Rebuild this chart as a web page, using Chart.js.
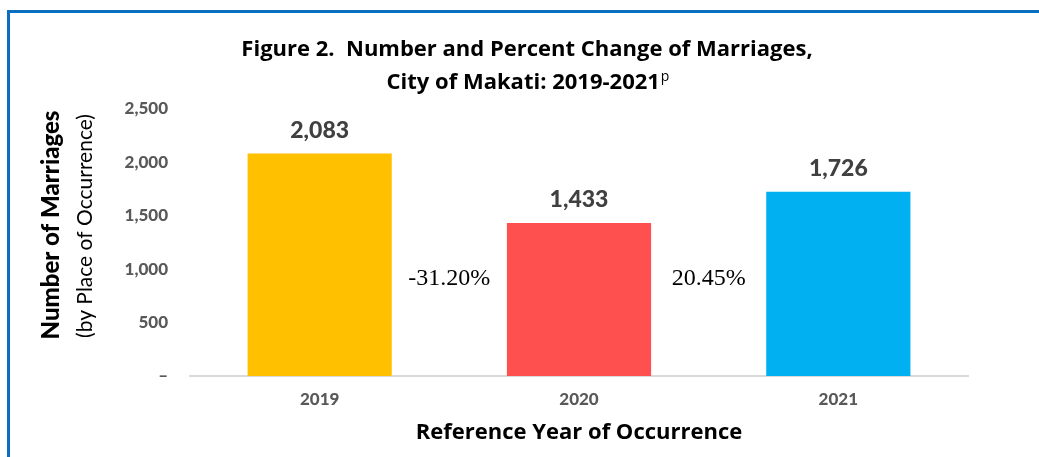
<!DOCTYPE html>
<html>
<head>
<meta charset="utf-8">
<script src="https://cdn.jsdelivr.net/npm/chart.js@4"></script>
<style>
  html, body { margin: 0; padding: 0; background: #fff; }
  #wrap { position: relative; width: 1039px; height: 457px; overflow: hidden; }
  #frame { position: absolute; left: 7px; top: 10px; width: 1100px; height: 500px;
           border-left: 3px solid #0A6EC1; border-top: 3px solid #0A6EC1; }
  canvas { position: absolute; left: 0; top: 0; }
</style>
</head>
<body>
<div id="wrap">
  <div id="frame"></div>
  <canvas id="chart" width="1039" height="457"></canvas>
</div>
<script>
const years = ['2019', '2020', '2021'];
const marriages = [2083, 1433, 1726];
const pctChange = ['-31.20%', '20.45%'];
const barColors = ['#FFC000', '#FF5050', '#00B0F0'];

const titleFont = '"Liberation Sans Narrow", "Open Sans", sans-serif';
const tickFont = 'Lato, "Noto Sans", sans-serif';

// title, axis titles and the labels on / between the bars
const extras = {
    id: 'extras',
    afterDraw(chart) {
        const ctx = chart.ctx;
        const xs = chart.scales.x;
        ctx.save();
        ctx.fillStyle = '#000';
        ctx.textAlign = 'center';
        ctx.textBaseline = 'middle';

        // title
        ctx.font = 'bold 22px ' + titleFont;
        ctx.fillText('Figure 2.  Number and Percent Change of Marriages,', 527, 50);
        const line2 = 'City of Makati: 2019-2021';
        const w2 = ctx.measureText(line2).width;
        ctx.font = '14px ' + titleFont;
        const wp = ctx.measureText('p').width;
        const start = 528 - (w2 + wp + 1) / 2;
        ctx.textAlign = 'left';
        ctx.font = 'bold 22px ' + titleFont;
        ctx.fillText(line2, start, 83);
        ctx.font = '14px ' + titleFont;
        ctx.fillText('p', start + w2 + 1, 77);

        // y axis title, two lines
        ctx.textAlign = 'center';
        ctx.save();
        ctx.translate(51, 225);
        ctx.rotate(-Math.PI / 2);
        ctx.font = '900 24px ' + tickFont;
        ctx.fillText('Number of Marriages', 0, 0);
        ctx.restore();
        ctx.save();
        ctx.translate(85, 226);
        ctx.rotate(-Math.PI / 2);
        ctx.font = '21px ' + tickFont;
        ctx.fillText('(by Place of Occurrence)', 0, 0);
        ctx.restore();

        // x axis title
        ctx.font = 'bold 22px ' + titleFont;
        ctx.fillText('Reference Year of Occurrence', (chart.chartArea.left + chart.chartArea.right) / 2, 433);

        // values above bars
        ctx.fillStyle = '#404040';
        ctx.font = '900 23px ' + tickFont;
        ctx.textBaseline = 'alphabetic';
        chart.getDatasetMeta(0).data.forEach((bar, i) => {
            ctx.fillText(marriages[i].toLocaleString('en-US'), bar.x, bar.y - 16);
        });

        // percent change between bars
        ctx.fillStyle = '#000';
        ctx.textBaseline = 'middle';
        ctx.font = '24px "Liberation Serif", "DejaVu Serif", serif';
        pctChange.forEach((t, i) => {
            const x = (xs.getPixelForValue(i) + xs.getPixelForValue(i + 1)) / 2;
            ctx.fillText(t, x, 279);
        });
        ctx.restore();
    }
};

new Chart(document.getElementById('chart'), {
    type: 'bar',
    data: {
        labels: years,
        datasets: [{
            data: marriages,
            backgroundColor: barColors,
            barPercentage: 0.556,
            categoryPercentage: 1
        }]
    },
    options: {
        responsive: false,
        animation: false,
        devicePixelRatio: 1,
        layout: { padding: { top: 109, right: 71, left: 0, bottom: 0 } },
        plugins: {
            legend: { display: false },
            tooltip: { enabled: false }
        },
        scales: {
            x: {
                grid: { display: false },
                border: { display: true, color: '#d9d9d9', width: 2 },
                ticks: { color: '#595959', font: { family: tickFont, size: 17, weight: '900' }, padding: 5 },
                afterFit(s) { s.height = 81; }
            },
            y: {
                min: 0,
                max: 2500,
                grid: { display: false },
                border: { display: false },
                ticks: {
                    stepSize: 500,
                    color: '#595959',
                    font: { family: tickFont, size: 17, weight: '900' },
                    padding: 14,
                    callback: v => v === 0 ? '–' : v.toLocaleString('en-US')
                },
                afterFit(s) { s.width = 190; }
            }
        }
    },
    plugins: [extras]
});
</script>
</body>
</html>
